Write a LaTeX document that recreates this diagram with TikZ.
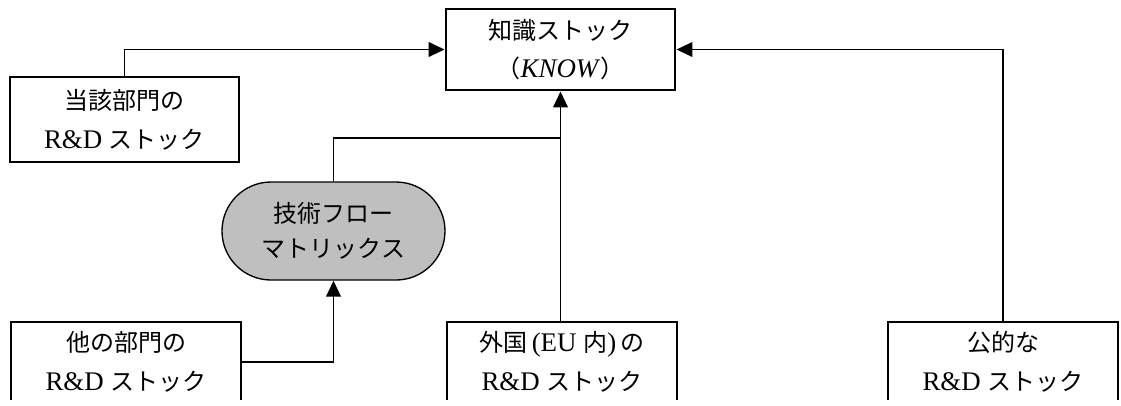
\documentclass[tikz,border=0pt]{standalone}
\usepackage{fontspec}
\setmainfont[Scale=1.12]{Liberation Serif}
\newfontfamily\jp{Noto Sans CJK JP}
\newcommand\J[1]{{\jp #1}}
\usetikzlibrary{arrows.meta,shapes.misc}
\begin{document}
\begin{tikzpicture}[x=0.75pt,y=-0.75pt,
  txt/.style={font=\fontsize{18}{29}\selectfont, align=center, text=black},
  box/.style={txt, draw, line width=2.2pt, rectangle, inner sep=0pt},
  pill/.style={txt, draw, line width=1pt, rounded rectangle, fill=black!25, inner sep=0pt,
    font=\fontsize{18}{26}\selectfont},
  conn/.style={line width=1.4pt},
  arr/.style={conn, -{Triangle[length=12pt,width=11pt]}}]
\useasboundingbox (0,0) rectangle (1121,405);
\clip (0,0) rectangle (1121,399);
\node[box, minimum width=171.75pt, minimum height=60.75pt] (know) at (560.5,49.5)
  {\J{知識ストック}\\\J{（}\textit{KNOW}\J{）}};
\node[box, minimum width=171.75pt, minimum height=63.75pt] (dept) at (124.5,119.5)
  {\J{当該部門の}\\R\&D \J{ストック}};
\node[pill, minimum width=167.25pt, minimum height=73.5pt] (flow) at (333.5,231)
  {\J{技術フロー}\\\J{マトリックス}};
\node[box, minimum width=172.5pt, minimum height=60pt] (other) at (126,362)
  {\J{他の部門の}\\R\&D \J{ストック}};
\node[box, minimum width=172.5pt, minimum height=60pt] (foreign) at (562,362)
  {\J{外国}\,(EU \J{内})\,\J{の}\\R\&D \J{ストック}};
\node[box, minimum width=172.5pt, minimum height=60pt] (public) at (1003,362)
  {\J{公的な}\\R\&D \J{ストック}};
\coordinate (join) at (know.south |- 0,138);
\draw[arr] (dept.north) |- (know.west);
\draw[arr] (public.north) |- (know.east);
\draw[arr] (foreign.north -| know.south) -- (know.south);
\draw[conn] (flow.north) |- (join);
\draw[arr] (other.east) -| (flow.south);
\end{tikzpicture}
\end{document}
